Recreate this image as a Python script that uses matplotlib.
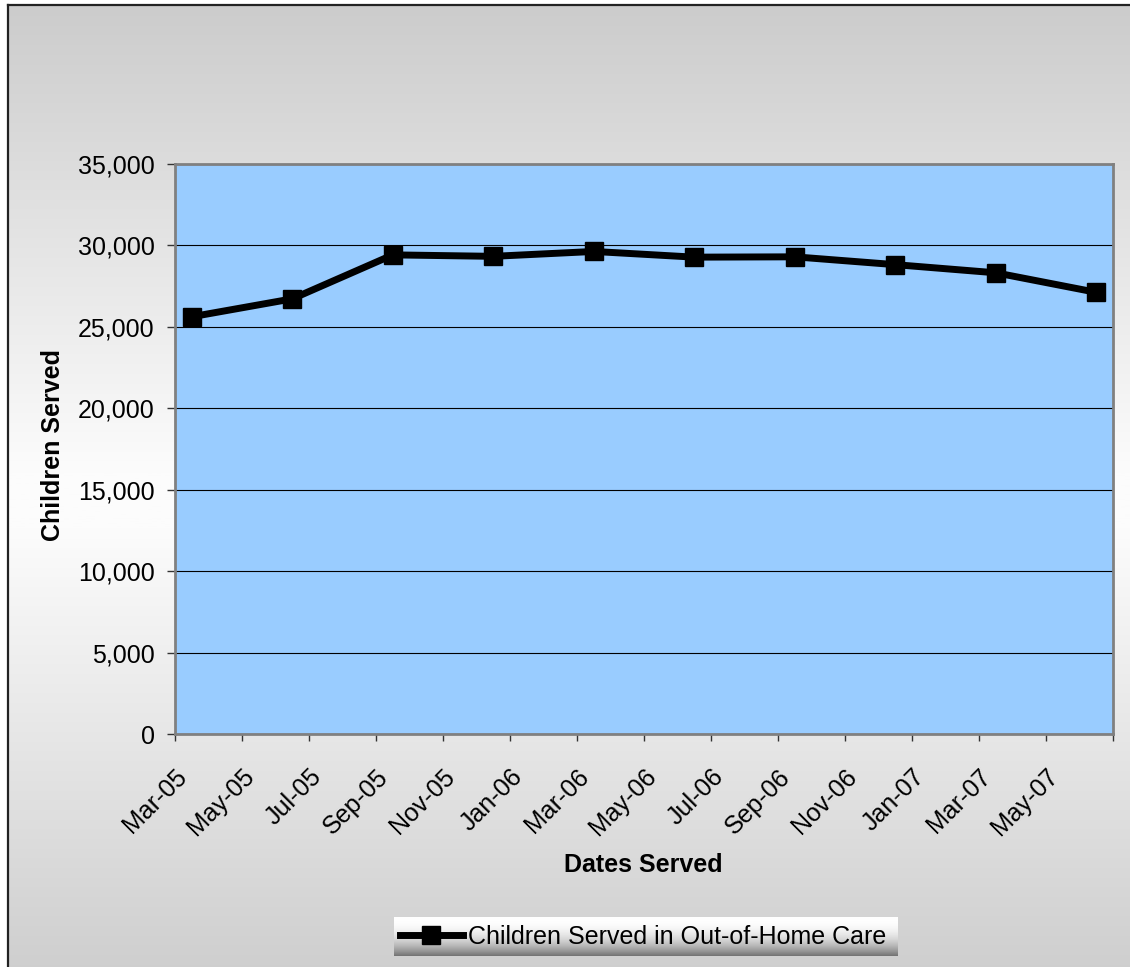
import matplotlib
matplotlib.use('Agg')
import matplotlib.pyplot as plt
import numpy as np
from matplotlib.lines import Line2D
from matplotlib.ticker import FuncFormatter, FixedLocator

plt.rcParams['font.family'] = ['Liberation Sans', 'DejaVu Sans']
plt.rcParams['font.size'] = 18

# ---------------- data ----------------
months = ['Mar-05', 'Jun-05', 'Sep-05', 'Dec-05', 'Mar-06', 'Jun-06',
          'Sep-06', 'Dec-06', 'Mar-07', 'Jun-07']
children_served = [25620, 26720, 29420, 29330, 29630, 29280, 29300,
                   28820, 28320, 27120]
tick_labels = ['Mar-05', 'May-05', 'Jul-05', 'Sep-05', 'Nov-05', 'Jan-06',
               'Mar-06', 'May-06', 'Jul-06', 'Sep-06', 'Nov-06', 'Jan-07',
               'Mar-07', 'May-07']
axis_start = 'Mar-05'
axis_end = 'Jul-07'
y_ticks = [0, 5000, 10000, 15000, 20000, 25000, 30000, 35000]
series_name = 'Children Served in Out-of-Home Care'
x_title = 'Dates Served'
y_title = 'Children Served'

MONTHS = ['Jan', 'Feb', 'Mar', 'Apr', 'May', 'Jun', 'Jul', 'Aug', 'Sep',
          'Oct', 'Nov', 'Dec']


def month_number(label):
    m, y = label.split('-')
    return (2000 + int(y)) * 12 + MONTHS.index(m)


start = month_number(axis_start)
end = month_number(axis_end)
x_pts = [month_number(m) - start + 0.5 for m in months]   # middle of month
x_ticks = [month_number(t) - start for t in tick_labels] + [end - start]
x_tick_text = tick_labels + ['']

# ---------------- figure ----------------
W, H = 1130, 967
fig = plt.figure(figsize=(W / 100, H / 100), dpi=100)
fig.patch.set_facecolor('white')

# background gradient (chart area)
bg = fig.add_axes([8 / W, 0, 1 - 8 / W, 1 - 5 / H], zorder=-5)
ys = np.linspace(5, H, 400)
v = 204 + 51 * (1 - np.abs(ys - 500) / 495)
v = np.clip(v, 200, 252) / 255.0
grad = np.repeat(v[:, None], 3, axis=1)[:, None, :]
bg.imshow(grad, aspect='auto', extent=[0, 1, 0, 1], origin='upper')
bg.axis('off')

# chart border
fig.add_artist(Line2D([8 / W, 8 / W], [0, 1 - 5 / H], color='#222222',
                      lw=1.6, transform=fig.transFigure))
fig.add_artist(Line2D([8 / W, 1], [1 - 5 / H, 1 - 5 / H], color='#222222',
                      lw=1.6, transform=fig.transFigure))

# main axes
ax = fig.add_axes([175 / W, 1 - 734 / H, 938 / W, 570 / H])
ax.set_facecolor('#99CCFF')
ax.plot(x_pts, children_served, color='black', lw=5, marker='s',
        markersize=13, markerfacecolor='black', markeredgecolor='black',
        solid_joinstyle='round', zorder=5, clip_on=False)

ax.set_xlim(0, end - start)
ax.set_ylim(0, 35000)
ax.yaxis.set_major_locator(FixedLocator(y_ticks))
ax.yaxis.set_major_formatter(FuncFormatter(lambda v, p: f'{int(v):,}'))
ax.set_xticks(x_ticks)
ax.set_xticklabels(x_tick_text, rotation=45, ha='right', va='top',
                   rotation_mode='anchor')

ax.grid(axis='y', color='black', lw=0.8)
ax.set_axisbelow(True)
for s in ax.spines.values():
    s.set_color('#808080')
    s.set_linewidth(2)

ax.tick_params(axis='y', length=6, width=1, color='#333333', pad=8.5,
               labelsize=18)
ax.tick_params(axis='x', length=5, width=1, color='#333333', pad=17,
               labelsize=18)

# axis titles
fig.text(53 / W, 1 - 445 / H, y_title, rotation=90, ha='center',
         va='center', fontweight='bold', fontsize=18)
fig.text(643.5 / W, 1 - 872.5 / H, x_title, ha='center', va='baseline',
         fontweight='bold', fontsize=18)

# legend with gradient box
lg = fig.add_axes([394 / W, 1 - 956 / H, 504 / W, 39 / H], zorder=-1)
t = np.linspace(0, 1, 100)
lv = (255 - 140 * t ** 2.2) / 255.0
lgrad = np.repeat(lv[:, None], 3, axis=1)[:, None, :]
lg.imshow(lgrad, aspect='auto', extent=[0, 1, 0, 1], origin='upper')
lg.axis('off')

handle = Line2D([], [], color='black', lw=5, marker='s', markersize=13)
fig.legend([handle], [series_name], loc='center',
           bbox_to_anchor=(643 / W, 1 - 936.5 / H), frameon=False,
           handlelength=2.5, handletextpad=0.2, fontsize=18,
           borderpad=0, borderaxespad=0)

fig.savefig('out.png', dpi=100)
